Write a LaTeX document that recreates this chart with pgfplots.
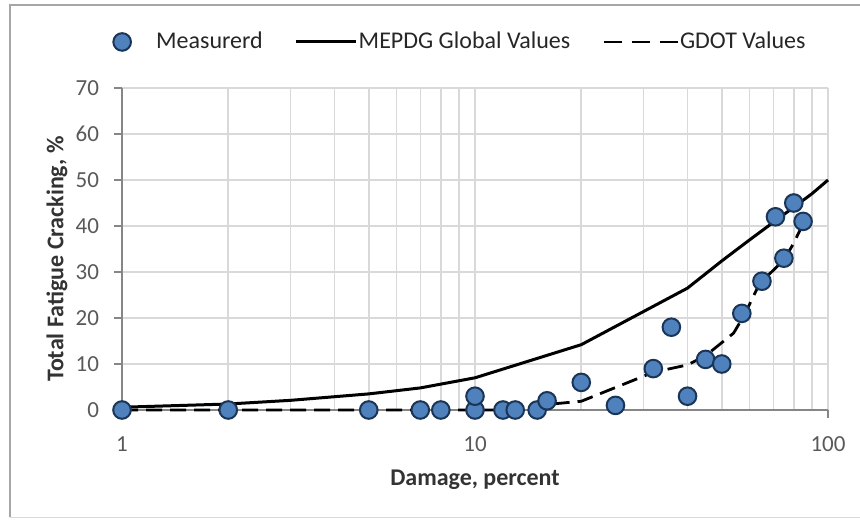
\documentclass[border=0pt]{standalone}
\usepackage{fontspec}
\setmainfont{Carlito}
\usepackage{pgfplots}
\pgfplotsset{compat=1.18}

\definecolor{mblue}{HTML}{4F81BD}
\definecolor{medge}{HTML}{1B3556}
\definecolor{gridgray}{HTML}{D9D9D9}
\definecolor{axisgray}{HTML}{868686}
\definecolor{labgray}{HTML}{595959}
\definecolor{framegray}{HTML}{A6A6A6}

\pgfplotsset{
  markleg/.style={legend image code/.code={\fill[mblue] (4.5pt,0pt) circle (4.4pt); \draw[medge, line width=1pt] (4.5pt,0pt) circle (4.4pt); \path[draw=none] (0pt,0pt) -- (21pt,0pt);}},
  solidleg/.style={legend image code/.code={\draw[##1] (0pt,0pt) -- (30pt,0pt);}},
  dashleg/.style={legend image code/.code={\draw[##1, dash pattern=on 9pt off 5pt] (0pt,0pt) -- (37pt,0pt);}},
}

\begin{document}
\begin{tikzpicture}
\useasboundingbox (0,0) rectangle (430pt,259.5pt);
% chart area frame
\draw[framegray, line width=0.8pt] (5pt,1pt) -- (5pt,257pt) -- (430pt,257pt);
\draw[gridgray, line width=0.5pt] (5pt,1pt) -- (430pt,1pt);
\begin{axis}[
  at={(61pt,54.5pt)}, anchor=south west,
  scale only axis, width=353pt, height=161pt,
  xmode=log, log basis x=10,
  xmin=1, xmax=100, ymin=0, ymax=70,
  xtick={1,10,100}, ytick={0,10,...,70},
  minor xtick={2,3,4,5,6,7,8,9,20,30,40,50,60,70,80,90},
  log ticks with fixed point,
  /pgf/number format/assume math mode=true,
  axis lines=left, axis line style={-, axisgray, line width=0.8pt},
  tick align=outside, major tick length=4pt, minor tick length=0pt,
  tick style={axisgray, line width=0.6pt},
  xmajorgrids, xminorgrids, ymajorgrids,
  major grid style={gridgray, line width=0.8pt},
  minor grid style={gridgray, line width=0.8pt},
  ticklabel style={font=\fontsize{11.5}{13}\selectfont, text=labgray},
  xticklabel style={yshift=-6pt},
  yticklabel style={xshift=-4pt},
  xlabel={\textbf{Damage, percent}},
  ylabel={\textbf{Total Fatigue Cracking, \%}},
  label style={font=\fontsize{12}{14}\selectfont, text=black!80},
  xlabel style={at={(axis description cs:0.5,-0.217)}, anchor=center},
  ylabel style={at={(axis description cs:-0.092,0.469)}, anchor=center},
  clip=false,
  legend columns=3,
  legend style={at={(axis description cs:0.478,1.143)}, anchor=center,
    draw=none, fill=none, font=\fontsize{12}{14}\selectfont, text=black!85,
    /tikz/every even column/.append style={column sep=15.5pt},
    nodes={inner xsep=0.5pt}},
]
\addplot[only marks, mark=*, mark size=4.4pt,
  mark options={fill=mblue, draw=medge, line width=1pt}, markleg]
  coordinates {
  (1,0) (2,0) (5,0) (7,0) (8,0) (10,0) (10,3) (12,0) (13,0) (15,0) (16,2)
  (20,6) (25,1) (32,9) (36,18) (40,3) (45,11) (50,10) (57,21) (65,28)
  (75,33) (71,42) (80,45) (85,41)
  };
\addlegendentry{Measurerd}
\addplot[black, line width=1.5pt, no marks, solidleg]
  coordinates {
  (1,0.6) (2,1.3) (3,2.1) (5,3.5) (7,4.8) (10,7) (20,14.2) (40,26.5)
  (50,32.4) (60,37) (70,40.8) (80,44.1) (90,47) (100,50)
  };
\addlegendentry{MEPDG Global Values}
\addplot[black, line width=1.4pt, no marks, dash pattern=on 8pt off 4pt, dashleg]
  coordinates {
  (1,0) (5,0) (10,0) (12,0) (13,0.3) (16,1.2) (20,1.9) (32,8.2) (40,9.8)
  (45,11.8) (54,16.7) (58,20.7) (64,27.5) (75,32.6) (80,36.3) (85,40.5)
  };
\addlegendentry{GDOT Values}
\end{axis}
\end{tikzpicture}
\end{document}
